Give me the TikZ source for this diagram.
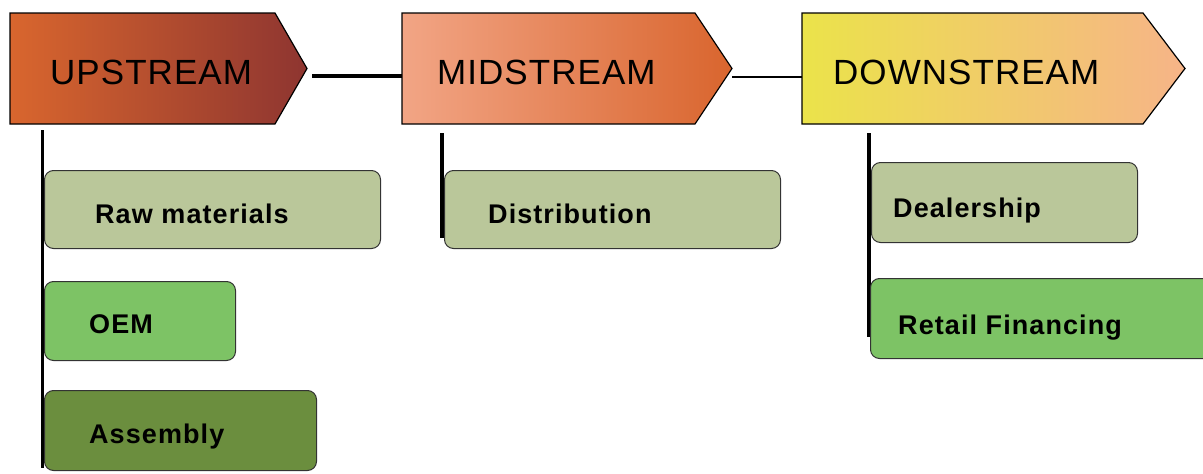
\documentclass[tikz,border=0pt]{standalone}
\usepackage{fontspec}
\setmainfont{Liberation Sans}
\newfontfamily\headfont[LetterSpace=3]{Liberation Sans}
\newfontfamily\labfont[LetterSpace=4]{Liberation Sans Bold}
\definecolor{sage}{HTML}{BAC79A}
\definecolor{leaf}{HTML}{7DC365}
\definecolor{olive}{HTML}{6B8E3E}
\definecolor{upL}{HTML}{D9662E}
\definecolor{upR}{HTML}{8E3530}
\definecolor{midL}{HTML}{F2A585}
\definecolor{midR}{HTML}{D9652E}
\definecolor{dnL}{HTML}{EBE34A}
\definecolor{dnR}{HTML}{F6B488}
\begin{document}
\begin{tikzpicture}[x=1pt,y=-1pt,
  stage/.style={draw=black,line width=1.2pt},
  head/.style={anchor=base west,inner sep=0pt,font=\headfont\fontsize{35}{40}\selectfont},
  box/.style={draw=black!80,line width=1pt,rounded corners=9pt,anchor=north west,inner sep=0pt},
  lab/.style={anchor=base west,inner sep=0pt,font=\labfont\fontsize{27}{30}\selectfont},
  vline/.style={draw=black,line width=4pt},
  link/.style={draw=black,line width=3.5pt}]
\useasboundingbox (0,0) rectangle (1203,474);
\clip (0,0) rectangle (1203,474);
% stages
\path[stage,left color=upL,right color=upR] (10,13) -- (275,13) -- (307,68.5) -- (275,124) -- (10,124) -- cycle;
\path[stage,left color=midL,right color=midR] (402,13) -- (695,13) -- (732,68.5) -- (695,124) -- (402,124) -- cycle;
\path[stage,left color=dnL,right color=dnR] (802,13) -- (1143,13) -- (1185,68.5) -- (1143,124) -- (802,124) -- cycle;
\node[head] (up) at (50,84) {UPSTREAM};
\node[head] (mid) at (437,84) {MIDSTREAM};
\node[head] (down) at (833,84) {DOWNSTREAM};
\coordinate (uptip) at (312,76);
\coordinate (midin) at (402,76);
\coordinate (midtip) at (732,77);
\coordinate (dnin) at (802,77);
\draw[link] (uptip) -- (midin);
\draw[black,line width=2pt] (midtip) -- (dnin);
% vertical lines
\coordinate (upv1) at (42,130);
\coordinate (upv2) at (42,468);
\coordinate (midv1) at (442,133);
\coordinate (midv2) at (442,238);
\coordinate (dnv1) at (869,133);
\coordinate (dnv2) at (869,337);
\draw[vline,line width=3pt] (upv1) -- (upv2);
\draw[vline] (midv1) -- (midv2);
\draw[vline] (dnv1) -- (dnv2);
% boxes
\node[box,fill=sage,minimum width=336pt,minimum height=78pt] (raw) at (44,170) {};
\node[lab] (rawt) at (95,223) {Raw materials};
\node[box,fill=leaf,minimum width=191pt,minimum height=79pt] (oem) at (44,281) {};
\node[lab] (oemt) at (89,333) {OEM};
\node[box,fill=olive,minimum width=272pt,minimum height=80pt] (asm) at (44,390) {};
\node[lab] (asmt) at (89,443) {Assembly};
\node[box,fill=sage,minimum width=336pt,minimum height=78pt] (dist) at (444,170) {};
\node[lab] (distt) at (488,223) {Distribution};
\node[box,fill=sage,minimum width=266pt,minimum height=80pt] (deal) at (871,162) {};
\node[lab] (dealt) at (893,217) {Dealership};
\node[box,fill=leaf,minimum width=345pt,minimum height=80pt] (ret) at (870,278) {};
\node[lab] (rett) at (898,334) {Retail Financing};
\end{tikzpicture}
\end{document}
